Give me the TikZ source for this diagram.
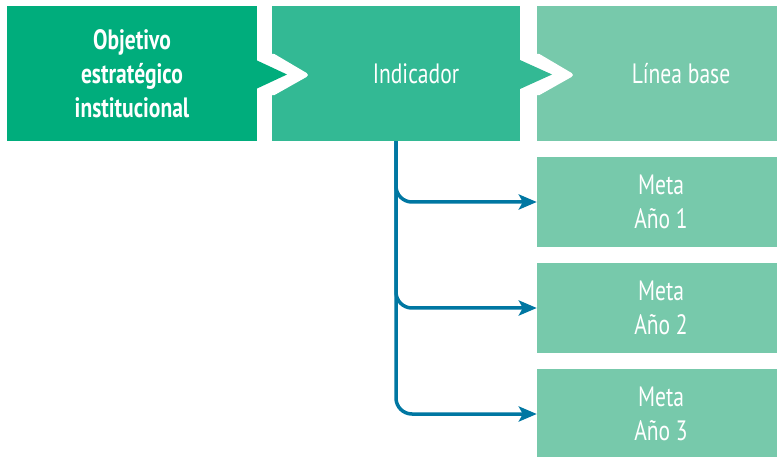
\documentclass[tikz,border=0pt]{standalone}
\usepackage{fontspec}
\setmainfont{PT Sans}[FakeStretch=0.77]
\usetikzlibrary{arrows.meta}

\definecolor{verdeobj}{HTML}{00AD7C}
\definecolor{verdeind}{HTML}{33B994}
\definecolor{verdelb}{HTML}{77C9AB}
\definecolor{azulflecha}{HTML}{0077A2}

\begin{document}
\begin{tikzpicture}[x=1pt, y=-1pt,
    textocaja/.style={text=white, align=center, font=\fontsize{28}{34}\selectfont},
    caja/.style={minimum height=135pt, inner sep=0pt, textocaja},
    cajameta/.style={caja, fill=verdelb, minimum width=240pt, minimum height=90pt},
    rotulo/.style 2 args={label={[textocaja, xshift=#1]center:#2}},
    flecha/.style={azulflecha, line width=3.5pt, rounded corners=16pt,
        -{Stealth[length=18pt, width=15pt, inset=4pt]}}]

    \useasboundingbox (0,0) rectangle (777,457);

    \draw(132,73.5) node[caja, fill=verdeobj, minimum width=250pt] (obj) {\bfseries Objetivo\\\bfseries estratégico\\\bfseries institucional};
    \draw(396,73.5) node[caja, fill=verdeind, minimum width=248pt, rotulo={20pt}{Indicador}] (ind) {};
    \draw(657,73.5) node[caja, fill=verdelb, minimum width=240pt, rotulo={24pt}{Línea base}] (lb) {};
    \draw(657,202) node[cajameta, rotulo={4pt}{Meta\\Año 1}] (meta1) {};
    \draw(657,308) node[cajameta, rotulo={4pt}{Meta\\Año 2}] (meta2) {};
    \draw(657,414) node[cajameta, rotulo={4pt}{Meta\\Año 3}] (meta3) {};

    % puntas entre las cajas
    \fill[white, rounded corners=4pt] (271,52) -- (310,75) -- (271,97) -- cycle;
    \fill[verdeobj] (256,60) -- (287,74.5) -- (256,89) -- cycle;
    \fill[white, rounded corners=4pt] (536,52) -- (575,75) -- (536,97) -- cycle;
    \fill[verdeind] (520,60) -- (552,74.5) -- (520,89) -- cycle;

    \draw[flecha] (ind.south) |- (meta1.west);
    \draw[flecha] (ind.south) |- (meta2.west);
    \draw[flecha] (ind.south) |- (meta3.west);

\end{tikzpicture}
\end{document}
